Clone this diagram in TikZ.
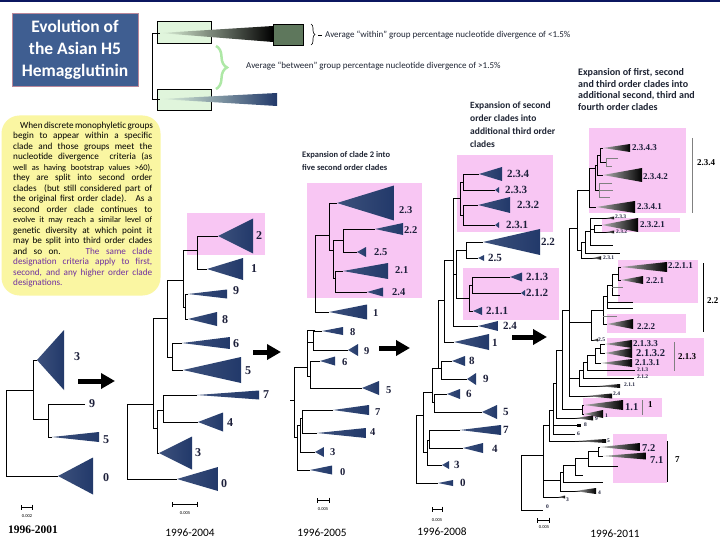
\documentclass[tikz,border=0pt]{standalone}
\usepackage{fontspec}
\setmainfont{Carlito}
\newfontfamily\labfont{Liberation Serif}
\usetikzlibrary{arrows.meta,decorations.pathreplacing}
\definecolor{navy}{HTML}{22396A}
\definecolor{barnavy}{HTML}{0B1660}
\definecolor{titleblue}{HTML}{3F5E91}
\definecolor{pinkbox}{HTML}{F8C6F3}
\definecolor{yellowbox}{HTML}{FAF6A2}
\definecolor{greenbox}{HTML}{E0F5DC}
\definecolor{greenbrace}{HTML}{AEE8A6}
\definecolor{within}{HTML}{5E775C}
\definecolor{purp}{HTML}{7030A0}
\definecolor{labcol}{HTML}{1C1F3A}
\definecolor{headcol}{HTML}{1E2433}
\tikzset{
  br/.style={draw=black, line width=0.8pt},
  twig/.style={draw=gray, line width=0.7pt},
  navyclade/.style={left color=navy!88!white, right color=navy},
  blackclade/.style={left color=gray!60, right color=black},
  pink/.style={fill=pinkbox},
  lab/.style={text=labcol, font=\labfont\bfseries\fontsize{12}{12}\selectfont, anchor=west, inner sep=0pt},
  lab3/.style={lab, font=\labfont\bfseries\fontsize{10.5}{10.5}\selectfont},
  lab4/.style={lab, font=\labfont\bfseries\fontsize{11}{11}\selectfont},
  mlab/.style={lab, font=\labfont\bfseries\fontsize{9}{9}\selectfont},
  blab/.style={lab, font=\labfont\bfseries\fontsize{10.5}{10.5}\selectfont},
  tlab/.style={lab, font=\labfont\bfseries\fontsize{5.5}{5.5}\selectfont},
  grplab/.style={lab, text=black, font=\labfont\bfseries\fontsize{9}{9}\selectfont},
  head/.style={text=headcol, font=\bfseries\fontsize{9.5}{12.5}\selectfont, align=left, anchor=west, inner sep=0pt},
  year/.style={font=\fontsize{11.3}{11.3}\selectfont, inner sep=0pt},
  sbar/.style={draw=black, line width=0.6pt, {Bar[width=5pt]}-{Bar[width=5pt]}},
  sval/.style={font=\fontsize{4.5}{4.5}\selectfont, inner sep=0pt},
  bigarrow/.style={line width=5pt, -{Triangle[length=14pt, width=15pt]}},
  grpbar/.style={draw=gray, line width=1pt},
  note/.style={font=\fontsize{9}{9}\selectfont, text=headcol, anchor=west, inner sep=0pt}
}
% collapsed clade: [style]{apex x}{y}{base x}{half height}
\newcommand{\cladetri}[5][navyclade]{\shade[#1] (#2,#3) -- ({#4},{#3-#5}) -- ({#4},{#3+#5}) -- cycle;}
% fork: {x}{top y}{top child x}{bottom y}{bottom child x}
\newcommand{\fork}[5]{\draw[br] (#3,#2) -| (#1,#4) -- (#5,#4);}

\begin{document}
\begin{tikzpicture}[x=1pt, y=-1pt]
  \useasboundingbox (0,0) rectangle (720,540);
  \fill[white] (0,0) rectangle (720,540);
  \fill[barnavy] (0,0) rectangle (720,2.5);

  % title and note
  \node[fill=titleblue, draw=titleblue!60!red!60!white, line width=0.8pt, minimum width=126pt, minimum height=73pt,
        text=white, font=\bfseries\fontsize{17.5}{22}\selectfont, align=center] (title) at (75,49.5)
        {Evolution of\\the Asian H5\\Hemagglutinin};

  \node[fill=yellowbox, rounded corners=18pt, minimum width=159pt, minimum height=180pt, inner sep=0pt] (notebox) at (81,205.5) {};
  \node[anchor=north west, inner sep=0pt, font=\fontsize{9.2}{10.5}\selectfont, align=left] (notetext) at (13,121.5)
  {\hspace*{7pt}\makebox[132pt][s]{When discrete monophyletic groups}\\
   \makebox[139pt][s]{begin to appear within a specific}\\
   \makebox[139pt][s]{clade and those groups meet the}\\
   \makebox[139pt][s]{nucleotide divergence \ criteria (as}\\
   \makebox[139pt][s]{\fontsize{8.4}{10.5}\selectfont well as having bootstrap values >60),}\\
   \makebox[139pt][s]{they are split into second order}\\
   \makebox[139pt][s]{clades \ (but still considered part of}\\
   \makebox[139pt][s]{the original first order clade). \ As a}\\
   \makebox[139pt][s]{second order clade continues to}\\
   \makebox[139pt][s]{\fontsize{8.4}{10.5}\selectfont evolve it may reach a similar level of}\\
   \makebox[139pt][s]{genetic diversity at which point it}\\
   \makebox[139pt][s]{may be split into third order clades}\\
   \makebox[139pt][s]{and so on. \quad \textcolor{purp}{The same clade}}\\
   \textcolor{purp}{\makebox[139pt][s]{designation criteria apply to first,}}\\
   \textcolor{purp}{\makebox[139pt][s]{second, and any higher order clade}}\\
   \textcolor{purp}{designations.}};

  % schematic
  \draw[fill=greenbox, line width=0.6pt] (157,21) rectangle (211,43);
  \draw[fill=greenbox, line width=0.6pt] (157,89) rectangle (211,110);
  \draw[br, line width=0.6pt] (160,33) -| (152,99) -- (160,99);
  \shade[left color=greenbox, right color=black] (160,33) -- (273,26) -- (273,42) -- cycle;
  \draw[fill=within, line width=0.6pt] (273,24) rectangle (303,45);
  \shade[left color=greenbox, right color=navy] (160,99) -- (277,93) -- (277,106) -- cycle;
  \draw[decorate, decoration={brace, amplitude=4pt}, line width=0.6pt] (311,24) -- (311,45);
  \draw[line width=0.5pt] (318,35) -- (322,35);
  \node[note] (within) at (325,35) {Average “within” group percentage nucleotide divergence of <1.5\%};
  \draw[greenbrace, decorate, decoration={brace, amplitude=11pt}, line width=2.5pt] (216,46) -- (216,89);
  \node[note] (between) at (246,66) {Average “between” group percentage nucleotide divergence of >1.5\%};

  % headers
  \node[head, font=\bfseries\fontsize{8.5}{13}\selectfont] (head3) at (302,161.5) {Expansion of clade 2 into\\five second order clades};
  \node[head, font=\bfseries\fontsize{9.5}{13}\selectfont] (head4) at (470,125) {Expansion of second\\order clades into\\additional third order\\clades};
  \node[head, font=\bfseries\fontsize{10}{11.9}\selectfont] (head5) at (578,89.5) {Expansion of first, second\\and third order clades into\\additional second, third and\\fourth order clades};

  % highlight boxes
  \fill[pink] (187,213) rectangle (265,255);
  \fill[pink] (307,183) rectangle (422,298);
  \fill[pink] (457,155) rectangle (553,232);
  \fill[pink] (463,268) rectangle (559,320);
  \fill[pink] (589,128) rectangle (686,213);
  \fill[pink] (602,218) rectangle (680,232);
  \fill[pink] (618,260) rectangle (698,303);
  \fill[pink] (607,314) rectangle (686,333);
  \fill[pink] (607,338) rectangle (704,376);
  \fill[pink] (583,398) rectangle (662,417);
  \fill[pink] (613,434) rectangle (667,483);

  % tree 1996-2001
  \fork{6}{390}{33}{476}{58}
  \fork{33}{360}{37}{419}{48}
  \fork{48}{404}{85}{437}{52}
  \cladetri{37}{360}{64}{30}
  \cladetri{52}{437}{99}{5}
  \cladetri{58}{476}{93}{18.5}
  \node[lab] (a3) at (74,357) {3};
  \node[lab] (a9) at (89,404) {9};
  \node[lab] (a5) at (103,440) {5};
  \node[lab] (a0) at (103,478) {0};

  % tree 1996-2004
  \fork{127}{404}{153}{479}{177}
  \fork{153}{318}{167}{428}{157}
  \fork{157}{410}{163}{453}{159}
  \fork{163}{395}{197}{422}{198}
  \fork{167}{280}{183}{357}{172}
  \fork{183}{250}{197}{307}{185}
  \fork{197}{236}{218}{269}{207}
  \fork{185}{294}{188}{319}{188}
  \fork{172}{343}{182}{370}{183}
  \cladetri{218}{236}{253}{17.5}
  \cladetri{207}{269}{243}{11}
  \cladetri{188}{294}{227}{4.5}
  \cladetri{188}{319}{217}{7}
  \cladetri{182}{343}{230}{6}
  \cladetri{183}{370}{241}{13}
  \cladetri{197}{395}{259}{4.5}
  \cladetri{198}{422}{223}{9.5}
  \cladetri{159}{453}{192}{16.5}
  \cladetri{177}{479}{218}{12}
  \node[lab] (b2) at (256,236) {2};
  \node[lab] (b1) at (251,269) {1};
  \node[lab] (b9) at (233,291) {9};
  \node[lab] (b8) at (222,320) {8};
  \node[lab] (b6) at (233,344) {6};
  \node[lab] (b5) at (245,371) {5};
  \node[lab] (b7) at (263,395) {7};
  \node[lab] (b4) at (227,423) {4};
  \node[lab] (b3) at (195,453) {3};
  \node[lab] (b0) at (221,484) {0};

  % tree 1996-2005
  \draw[br] (290,400) -- (294,400);
  \fork{294}{367}{307}{437}{297}
  \fork{297}{425}{300}{470}{310}
  \fork{300}{418}{302}{452}{315}
  \fork{302}{410}{333}{433}{317}
  \fork{307}{330}{315}{376}{310}
  \draw[br] (307,342) -- (313,342);
  \fork{315}{235}{329}{312}{329}
  \fork{313}{331}{322}{350}{348}
  \fork{310}{361}{320}{388}{362}
  \fork{329}{203}{337}{250}{333}
  \fork{333}{240}{343}{278}{335}
  \fork{343}{229}{375}{252}{357}
  \fork{335}{271}{343}{292}{367}
  \cladetri{337}{203}{394}{17.5}
  \cladetri{375}{229}{403}{6}
  \cladetri{357}{252}{366}{5}
  \cladetri{343}{271}{388}{8}
  \cladetri{367}{292}{383}{4.5}
  \cladetri{329}{312}{367}{7.5}
  \cladetri{322}{331}{343}{4}
  \cladetri{348}{350}{358}{6}
  \cladetri{320}{361}{335}{4.5}
  \cladetri{362}{388}{379}{7}
  \cladetri{333}{410}{369}{5}
  \cladetri{317}{433}{366}{5}
  \cladetri{315}{452}{324}{5}
  \cladetri{310}{470}{332}{4.5}
  \node[lab3] (c23) at (399,210) {2.3};
  \node[lab3] (c22) at (404,230) {2.2};
  \node[lab3] (c25) at (374,252) {2.5};
  \node[lab3] (c21) at (395,270) {2.1};
  \node[lab3] (c24) at (392,292) {2.4};
  \node[lab3] (c1) at (373,313) {1};
  \node[lab3] (c8) at (350,332) {8};
  \node[lab3] (c9) at (364,351) {9};
  \node[lab3] (c6) at (342,362) {6};
  \node[lab3] (c5) at (386,390) {5};
  \node[lab3] (c7) at (375,412) {7};
  \node[lab3] (c4) at (370,432) {4};
  \node[lab3] (c3) at (330,452) {3};
  \node[lab3] (c0) at (340,472) {0};

  % tree 1996-2008
  \fork{416}{415}{423}{483}{438}
  \fork{423}{392}{432}{452}{427}
  \fork{427}{440}{429}{465}{442}
  \fork{429}{430}{460}{448}{463}
  \fork{432}{368}{441}{402}{434}
  \draw[br] (444,300) -| (438,368);
  \fork{441}{361}{452}{379}{467}
  \fork{434}{394}{447}{412}{482}
  \fork{444}{260}{453}{342}{454}
  \fork{453}{198}{460}{326}{478}
  \draw[br] (453,274) -- (456,274);
  \fork{456}{250}{466}{298}{469}
  \fork{460}{182}{463}{215}{463}
  \fork{463}{174}{479}{190}{495}
  \fork{463}{205}{478}{225}{495}
  \fork{466}{242}{483}{258}{478}
  \fork{469}{285}{472}{311}{473}
  \fork{472}{277}{510}{293}{521}
  \cladetri{479}{174}{502}{7}
  \cladetri{495}{190}{499}{3}
  \cladetri{478}{205}{510}{8}
  \cladetri{495}{225}{499}{3}
  \cladetri{483}{242}{540}{13}
  \cladetri{478}{258}{484}{3}
  \cladetri{510}{277}{522}{4.5}
  \cladetri{521}{293}{525}{3}
  \cladetri{473}{311}{482}{4}
  \cladetri{478}{326}{498}{5}
  \cladetri{454}{342}{489}{8}
  \cladetri{452}{361}{465}{5}
  \cladetri{467}{379}{476}{6}
  \cladetri{447}{394}{460}{5}
  \cladetri{482}{412}{497}{7}
  \cladetri{460}{430}{501}{5}
  \cladetri{463}{448}{483}{5}
  \cladetri{442}{465}{449}{4}
  \cladetri{438}{483}{453}{3}
  \node[lab4] (d234) at (507,174) {2.3.4};
  \node[lab4] (d233) at (505,190) {2.3.3};
  \node[lab4] (d232) at (517,205) {2.3.2};
  \node[lab4] (d231) at (506,225) {2.3.1};
  \node[lab4] (d22) at (541,242) {2.2};
  \node[lab4] (d25) at (488,258) {2.5};
  \node[lab4] (d213) at (526,277) {2.1.3};
  \node[lab4] (d212) at (526,293) {2.1.2};
  \node[lab4] (d211) at (486,311) {2.1.1};
  \node[lab4] (d24) at (503,326) {2.4};
  \node[lab4] (d1) at (492,343) {1};
  \node[lab4] (d8) at (469,361) {8};
  \node[lab4] (d9) at (483,379) {9};
  \node[lab4] (d6) at (466,394) {6};
  \node[lab4] (d5) at (503,412) {5};
  \node[lab4] (d7) at (503,430) {7};
  \node[lab4] (d4) at (492,449) {4};
  \node[lab4] (d3) at (454,465) {3};
  \node[lab4] (d0) at (460,483) {0};

  % tree 1996-2011
  \fork{600}{148}{603}{162}{606}
  \draw[twig] (618,158) -| (606,166) -- (612,166);
  \fork{597}{155}{600}{175}{603}
  \draw[twig] (612,183) -| (599,197) -- (610,197);
  \draw[twig] (599,190) -- (613,190);
  \fork{595}{165}{597}{190}{599}
  \fork{589}{168}{595}{207}{596}
  \cladetri[blackclade]{603}{148}{630}{4}
  \cladetri[blackclade]{603}{175}{642}{7}
  \cladetri[blackclade]{596}{207}{635}{6}
  \fork{594}{225}{602}{232}{614}
  \fork{590}{218}{613}{245}{613}
  \draw[br] (590,229) -- (594,229);
  \fork{585}{231}{590}{253}{620}
  \fork{581}{242}{585}{258}{600}
  \fork{577}{190}{589}{250}{581}
  \cladetri[blackclade]{606}{218}{614}{1.5}
  \cladetri[blackclade]{602}{225}{638}{7}
  \cladetri[blackclade]{606}{232}{614}{1.5}
  \cladetri[blackclade]{592}{258}{601}{1.8}
  \fork{618}{267}{621}{280}{621}
  \fork{612}{274}{618}{295}{620}
  \draw[twig] (612,287) -- (623,287);
  \fork{607}{285}{612}{308}{633}
  \draw[br] (607,302) -- (633,302);
  \fork{603}{296}{607}{324}{607}
  \draw[twig] (603,316) -- (617,316);
  \fork{591}{310}{603}{340}{597}
  \cladetri[blackclade]{621}{267}{667}{5}
  \cladetri[blackclade]{621}{280}{643}{4}
  \cladetri[blackclade]{607}{324}{633}{5}
  \cladetri[blackclade]{593}{340}{598}{1.5}
  \fork{600}{344}{605}{353}{605}
  \fork{595}{348}{600}{363}{601}
  \fork{587}{355}{595}{370}{635}
  \fork{583}{362}{587}{378}{634}
  \fork{579}{370}{583}{386}{620}
  \cladetri[blackclade]{605}{344}{632}{4}
  \cladetri[blackclade]{605}{353}{632}{5}
  \cladetri[blackclade]{601}{363}{632}{4}
  \cladetri[blackclade]{597}{386}{620}{2}
  \fork{569}{228}{577}{396}{612}
  \draw[br] (569,322) -- (591,322);
  \draw[br] (569,378) -- (579,378);
  \cladetri[blackclade]{585}{396}{612}{2.5}
  \fork{562}{310}{569}{409}{582}
  \fork{582}{405}{584}{414}{584}
  \cladetri[blackclade]{584}{405}{623}{5}
  \cladetri[blackclade]{584}{414}{603}{4}
  \fork{556}{350}{562}{418}{593}
  \cladetri[blackclade]{575}{418}{593}{2.5}
  \fork{553}{383}{556}{434}{575}
  \draw[br] (553,425) -- (580,425);
  \fill (577,423.5) rectangle (581,426.5);
  \fork{549}{410}{553}{441}{606}
  \cladetri[blackclade]{575}{441}{606}{2}
  \fork{598}{447}{600}{456}{603}
  \cladetri[blackclade]{600}{447}{640}{4}
  \cladetri[blackclade]{603}{456}{646}{3.5}
  \fork{588}{451}{598}{466}{618}
  \fork{575}{458}{588}{475}{583}
  \fork{563}{465}{575}{482}{603}
  \fork{560}{472}{563}{491}{596}
  \cladetri[blackclade]{575}{491}{596}{3}
  \fork{543}{425}{549}{497}{565}
  \draw[br] (543,480) -- (560,480);
  \cladetri[blackclade]{558}{497}{565}{1.5}
  \fork{521}{455}{543}{510}{543}
  \node[mlab] (e2343) at (632,148) {2.3.4.3};
  \node[mlab] (e2342) at (643,177) {2.3.4.2};
  \node[mlab] (e2341) at (637,207) {2.3.4.1};
  \node[tlab] (e233) at (615,217) {2.3.3};
  \node[mlab] (e2321) at (640,225) {2.3.2.1};
  \node[tlab] (e232) at (616,232) {2.3.2};
  \node[tlab] (e231) at (603,258) {2.3.1};
  \node[mlab] (e2211) at (668,266) {2.2.1.1};
  \node[mlab] (e221) at (646,281) {2.2.1};
  \node[mlab] (e222) at (637,327) {2.2.2};
  \node[tlab] (e25) at (598,340) {2.5};
  \node[mlab] (e2133) at (633,344) {2.1.3.3};
  \node[blab] (e2132) at (636,353) {2.1.3.2};
  \node[mlab] (e2131) at (635,363) {2.1.3.1};
  \node[tlab] (e213) at (637,370) {2.1.3};
  \node[tlab] (e212) at (637,377) {2.1.2};
  \node[tlab] (e211) at (624,385) {2.1.1};
  \node[tlab] (e24) at (613,394) {2.4};
  \node[blab] (e11) at (625,407) {1.1};
  \node[tlab] (e1) at (605,416) {1};
  \node[tlab] (e9) at (595,419) {9};
  \node[tlab] (e8) at (584,425) {8};
  \node[tlab] (e6) at (577,434) {6};
  \node[tlab] (e5) at (607,441) {5};
  \node[blab] (e72) at (642,448) {7.2};
  \node[blab] (e71) at (650,460) {7.1};
  \node[tlab] (e4) at (598,493) {4};
  \node[tlab] (e3) at (566,500) {3};
  \node[tlab] (e0) at (546,507) {0};
  % group bars
  \draw[grpbar] (692,138) -- (692,213);
  \node[grplab] (g234) at (697,163) {2.3.4};
  \draw[br] (703,263) -- (703,332);
  \node[grplab] (g22) at (707,301) {2.2};
  \draw[grpbar] (674,342) -- (674,371);
  \node[grplab] (g213) at (678,357) {2.1.3};
  \draw[grpbar] (642,400) -- (642,415);
  \node[grplab] (g1) at (648,405) {1};
  \draw[br] (667,441) -- (667,482);
  \node[grplab] (g7) at (675,460) {7};

  % arrows between periods
  \coordinate (a1s) at (78,381);  \coordinate (a1e) at (115,381);
  \coordinate (a2s) at (253,352); \coordinate (a2e) at (281,352);
  \coordinate (a3s) at (379,348); \coordinate (a3e) at (410,348);
  \coordinate (a4s) at (512,337); \coordinate (a4e) at (547,337);
  \draw[bigarrow] (a1s) -- (a1e);
  \draw[bigarrow] (a2s) -- (a2e);
  \draw[bigarrow] (a3s) -- (a3e);
  \draw[bigarrow] (a4s) -- (a4e);

  % scale bars and periods
  \draw[sbar] (21,507) -- (33,507);   \node[sval] (s1) at (27,516) {0.002};
  \draw[sbar] (172,504) -- (198,504); \node[sval] (s2) at (185,513) {0.005};
  \draw[sbar] (317,500) -- (330,500); \node[sval] (s3) at (323,509) {0.005};
  \draw[sbar] (432,509) -- (443,509); \node[sval] (s4) at (437,520) {0.005};
  \draw[sbar] (537,520) -- (550,520); \node[sval] (s5) at (544,527) {0.005};
  \node[year, font=\labfont\bfseries\fontsize{11.5}{11.5}\selectfont] (y1) at (33,530) {1996-2001};
  \node[year] (y2) at (190,533) {1996-2004};
  \node[year] (y3) at (322,533) {1996-2005};
  \node[year] (y4) at (442,532) {1996-2008};
  \node[year] (y5) at (615,534) {1996-2011};
\end{tikzpicture}
\end{document}
